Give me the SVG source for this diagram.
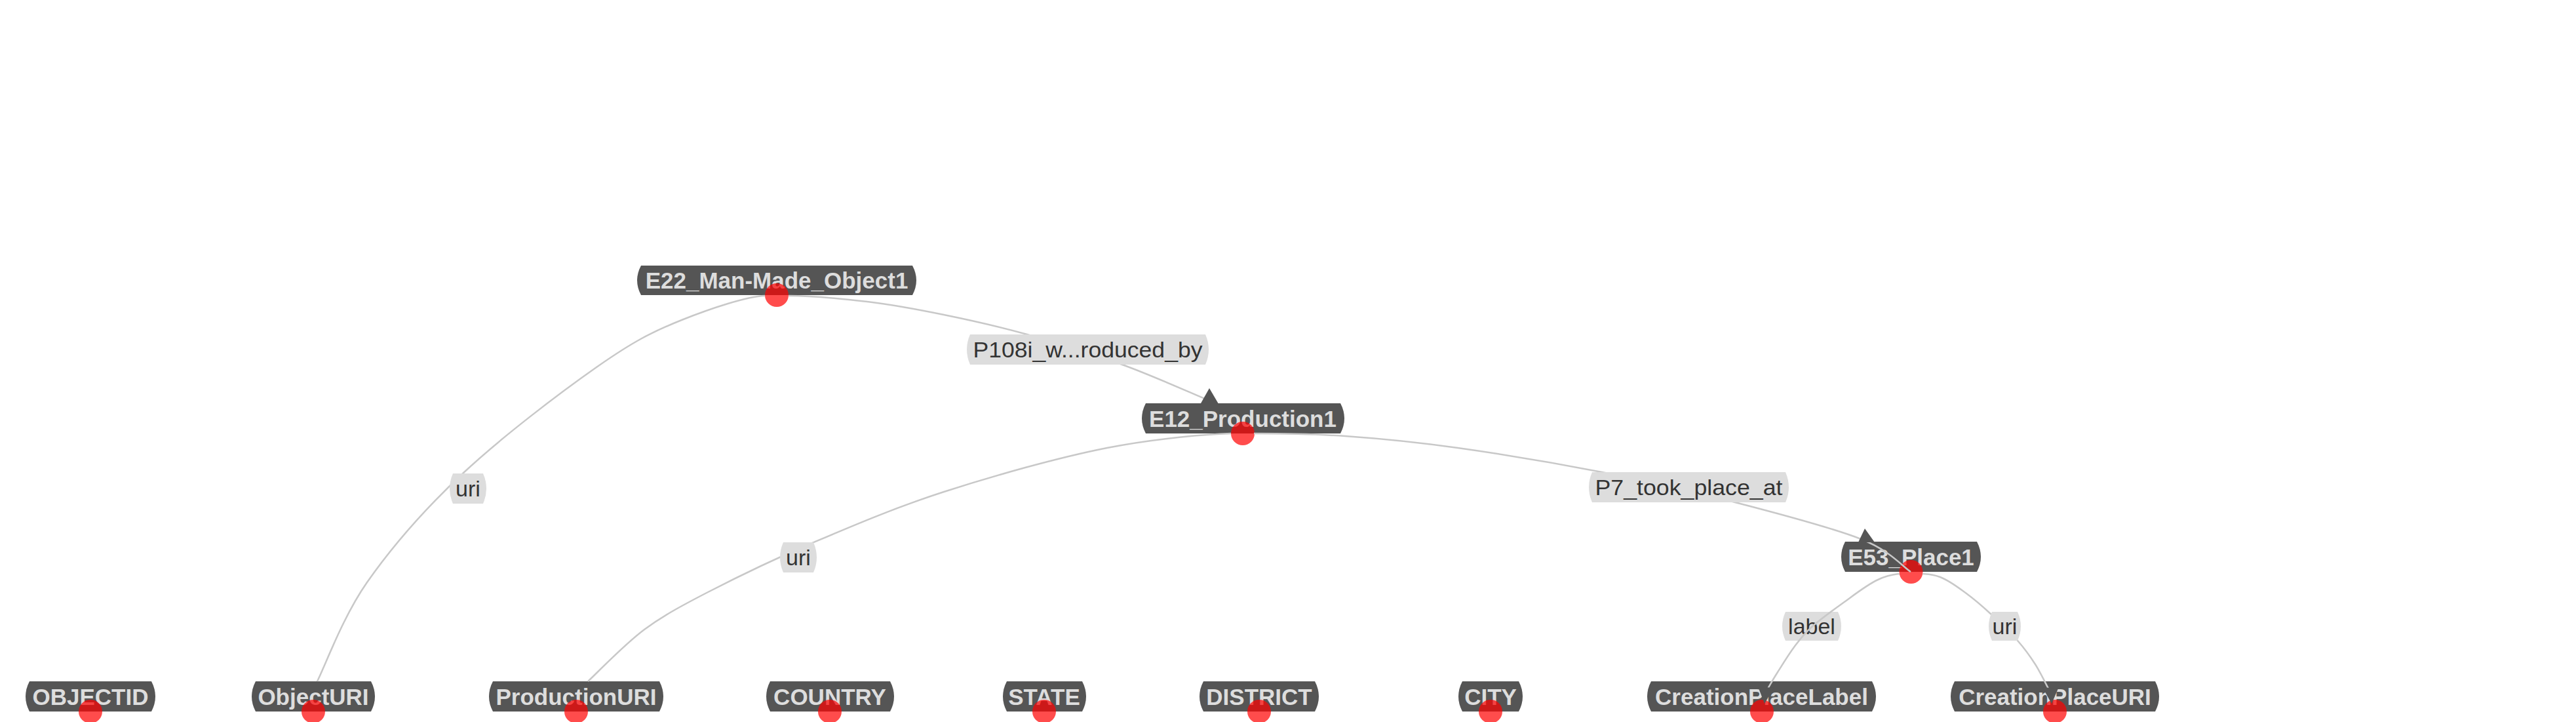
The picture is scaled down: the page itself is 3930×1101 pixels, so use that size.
<svg xmlns="http://www.w3.org/2000/svg" width="3930" height="1101" viewBox="0 0 3930 1101">
<style>
.box{fill:#555555}
.ntext{font-family:"Liberation Sans",Arial,sans-serif;font-weight:bold;font-size:35px;fill:#dddddd;text-anchor:middle}
.dot{fill:#ff0000;fill-opacity:0.7}
.edge{fill:none;stroke:#c8c8c8;stroke-width:2.5}
.lbox{fill:#dddddd}
.ltext{font-family:"Liberation Sans",Arial,sans-serif;font-size:34px;fill:#333333;text-anchor:middle}
.arrow{fill:#555555}
</style>
<rect x="0" y="0" width="3930" height="1101" fill="#ffffff"/>
<g id="nodes">
  <g id="n-E22">
    <path class="box" d="M978,405 H1392 Q1404,427.5 1392,450 H978 Q966,427.5 978,405 Z"/>
    <text class="ntext" x="1185" y="440">E22_Man-Made_Object1</text>
    <circle class="dot" cx="1185" cy="450" r="18"/>
  </g>
  <g id="n-E12">
    <path class="box" d="M1748,615 H2045 Q2057,638 2045,661 H1748 Q1736,638 1748,615 Z"/>
    <text class="ntext" x="1896" y="650.5">E12_Production1</text>
    <circle class="dot" cx="1896" cy="661" r="18"/>
  </g>
  <g id="n-E53">
    <path class="box" d="M2815,826 H3016 Q3028,849 3016,872 H2815 Q2803,849 2815,826 Z"/>
    <text class="ntext" x="2915.5" y="861.5">E53_Place1</text>
    <circle class="dot" cx="2915.5" cy="872" r="18"/>
  </g>
  <g id="n-OBJECTID">
    <path class="box" d="M45,1039 H231 Q243,1062 231,1085 H45 Q33,1062 45,1039 Z"/>
    <text class="ntext" x="138" y="1074.5">OBJECTID</text>
    <circle class="dot" cx="138" cy="1085" r="18"/>
  </g>
  <g id="n-ObjectURI">
    <path class="box" d="M390,1039 H566 Q578,1062 566,1085 H390 Q378,1062 390,1039 Z"/>
    <text class="ntext" x="478" y="1074.5">ObjectURI</text>
    <circle class="dot" cx="478" cy="1085" r="18"/>
  </g>
  <g id="n-ProductionURI">
    <path class="box" d="M752,1039 H1006 Q1018,1062 1006,1085 H752 Q740,1062 752,1039 Z"/>
    <text class="ntext" x="879" y="1074.5">ProductionURI</text>
    <circle class="dot" cx="879" cy="1085" r="18"/>
  </g>
  <g id="n-COUNTRY">
    <path class="box" d="M1175,1039 H1358 Q1370,1062 1358,1085 H1175 Q1163,1062 1175,1039 Z"/>
    <text class="ntext" x="1266" y="1074.5">COUNTRY</text>
    <circle class="dot" cx="1266" cy="1085" r="18"/>
  </g>
  <g id="n-STATE">
    <path class="box" d="M1536,1039 H1651 Q1663,1062 1651,1085 H1536 Q1524,1062 1536,1039 Z"/>
    <text class="ntext" x="1593" y="1074.5">STATE</text>
    <circle class="dot" cx="1593" cy="1085" r="18"/>
  </g>
  <g id="n-DISTRICT">
    <path class="box" d="M1836,1039 H2006 Q2018,1062 2006,1085 H1836 Q1824,1062 1836,1039 Z"/>
    <text class="ntext" x="1921" y="1074.5">DISTRICT</text>
    <circle class="dot" cx="1921" cy="1085" r="18"/>
  </g>
  <g id="n-CITY">
    <path class="box" d="M2231,1039 H2317 Q2329,1062 2317,1085 H2231 Q2219,1062 2231,1039 Z"/>
    <text class="ntext" x="2274" y="1074.5">CITY</text>
    <circle class="dot" cx="2274" cy="1085" r="18"/>
  </g>
  <g id="n-CreationPlaceLabel">
    <path class="box" d="M2519,1039 H2856 Q2868,1062 2856,1085 H2519 Q2507,1062 2519,1039 Z"/>
    <text class="ntext" x="2687.5" y="1074.5">CreationPlaceLabel</text>
    <circle class="dot" cx="2688" cy="1085" r="18"/>
  </g>
  <g id="n-CreationPlaceURI">
    <path class="box" d="M2982,1039 H3288 Q3300,1062 3288,1085 H2982 Q2970,1062 2982,1039 Z"/>
    <text class="ntext" x="3135" y="1074.5">CreationPlaceURI</text>
    <circle class="dot" cx="3135" cy="1085" r="18"/>
  </g>
</g>
<g id="connectors">
  <g id="e-E22-ObjectURI">
    <path class="edge" d="M1167,451 C1140,452 1085.8,469.7 1040,488 C994.2,506.3 965.7,521 910,560 C854.3,599 764.3,667.3 706,722 C647.7,776.7 597,835.2 560,888 C523,940.8 496.7,1013.8 484,1039"/>
    <path class="lbox" d="M691,722 H737 Q747,745 737,768 H691 Q681,745 691,722 Z"/>
    <text class="ltext" x="714" y="757">uri</text>
  </g>
  <g id="e-E22-E12">
    <path class="edge" d="M1203,451 C1240,451 1280.5,455 1323,460 C1365.5,465 1399.3,471.7 1440,480 C1480.7,488.3 1521.7,497.3 1567,510 C1612.3,522.7 1666.8,539.7 1712,556 C1757.2,572.3 1817,599.3 1838,608"/>
    <path class="lbox" d="M1480,510 H1839 Q1849,533 1839,556 H1480 Q1470,533 1480,510 Z"/>
    <text class="ltext" x="1659.5" y="545" textLength="350" lengthAdjust="spacingAndGlyphs">P108i_w...roduced_by</text>
    <polygon class="arrow" points="1845,592 1832,615 1858.5,615"/>
  </g>
  <g id="e-E12-ProductionURI">
    <path class="edge" d="M1878,661 C1845,662 1764.8,668 1689,683 C1613.2,698 1515,725.8 1440,750 C1365,774.2 1299,802.5 1239,828 C1179,853.5 1122.7,881 1080,903 C1037.3,925 1010,940 983,960 C952.5,982.7 911.3,1025.8 897,1039"/>
    <path class="lbox" d="M1195,827 H1241 Q1251,850 1241,873 H1195 Q1185,850 1195,827 Z"/>
    <text class="ltext" x="1218" y="862">uri</text>
  </g>
  <g id="e-E12-E53">
    <path class="edge" d="M1913,661 C1950,661 1997.2,661.2 2052,665 C2106.8,668.8 2158.7,673.8 2224,683 C2289.3,692.2 2373.5,706.2 2444,720 C2514.5,733.8 2581.2,749 2647,766 C2712.8,783 2794.3,804.3 2839,822 C2883.7,839.7 2902.3,863.7 2915,872"/>
    <path class="lbox" d="M2429,720 H2724 Q2734,743 2724,766 H2429 Q2419,743 2429,720 Z"/>
    <text class="ltext" x="2576.5" y="755" textLength="286" lengthAdjust="spacingAndGlyphs">P7_took_place_at</text>
    <polygon class="arrow" points="2845,806 2835,827 2860,827"/>
  </g>
  <g id="e-E53-CreationPlaceLabel">
    <path class="lbox" d="M2724,933 H2804 Q2814,955 2804,977 H2724 Q2714,955 2724,933 Z"/>
    <text class="ltext" x="2764" y="967">label</text>
    <path class="edge" d="M2898,875 C2890,876 2882.3,876 2865,884 C2847.7,892 2828,907.8 2811,920 C2794,932.2 2775.3,945.8 2763,957 C2750.7,968.2 2745.5,975.7 2737,987 C2728.5,998.3 2718.7,1014.5 2712,1025 C2705.3,1035.5 2699.5,1045.8 2697,1050"/>
    <polygon class="arrow" points="2682,1047 2706,1049 2692,1073"/>
  </g>
  <g id="e-E53-CreationPlaceURI">
    <path class="edge" d="M2933,875 C2938,875.5 2945.8,874.5 2960,880 C2974.2,885.5 2987,895.5 3000,905 C3013,914.5 3024.8,924.8 3038,937 C3051.2,949.2 3067.8,965.3 3079,978 C3090.2,990.7 3097.3,1001 3105,1013 C3112.7,1025 3121.7,1043.8 3125,1050"/>
    <path class="lbox" d="M3039,933 H3078 Q3088,955 3078,977 H3039 Q3029,955 3039,933 Z"/>
    <text class="ltext" x="3058.5" y="967">uri</text>
    <polygon class="arrow" points="3116,1048 3140,1050 3130,1073"/>
  </g>
</g>
</svg>
